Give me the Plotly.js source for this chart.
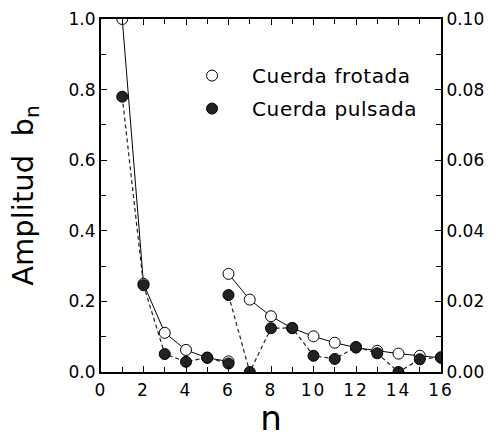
<!DOCTYPE html>
<html><head><meta charset="utf-8">
<script src="https://cdn.plot.ly/plotly-3.0.1.min.js"></script>
<style>html,body{margin:0;padding:0;background:#fff}
.legendtext{letter-spacing:0.6px}
.xtick text{letter-spacing:2px}</style>
</head><body><div id="chart" style="width:497px;height:438px"></div>
<script>
// Left-scale part (n = 1..6)
const nLeft = [1, 2, 3, 4, 5, 6];
const frotadaLeft = [1.0, 0.25, 0.111, 0.0625, 0.04, 0.030];
const pulsadaLeft = [0.78, 0.246, 0.051, 0.029, 0.041, 0.024];
// Right-scale part (n = 6..16), read on the 0–0.10 axis
const nRight = [6, 7, 8, 9, 10, 11, 12, 13, 14, 15, 16];
const frotadaRight = [0.0278, 0.0205, 0.0158, 0.0124, 0.0101, 0.0083, 0.0069, 0.0060, 0.0052, 0.0046, 0.0040];
const pulsadaRight = [0.0218, 0.0, 0.0124, 0.0125, 0.0046, 0.0037, 0.0071, 0.0053, 0.0, 0.0036, 0.0042];
const names = ["Cuerda frotada", "Cuerda pulsada"];

const FONT = "DejaVu Sans, Arial, sans-serif";
const solid = {color: "#000", width: 1, dash: "solid"};
const dashed = {color: "#222", width: 1.2, dash: "4px,3px"};
const openMk = {symbol: "circle", size: 11, color: "#fff", line: {color: "#000", width: 1}};
const fillMk = {symbol: "circle", size: 11, color: "#222", line: {color: "#000", width: 1}};

const traces = [
  {x: nLeft, y: frotadaLeft, mode: "lines", line: solid, showlegend: false, hoverinfo: "skip"},
  {x: nRight, y: frotadaRight, yaxis: "y2", mode: "lines", line: solid, showlegend: false, hoverinfo: "skip"},
  {x: nLeft, y: pulsadaLeft, mode: "lines", line: dashed, showlegend: false, hoverinfo: "skip"},
  {x: nRight, y: pulsadaRight, yaxis: "y2", mode: "lines", line: dashed, showlegend: false, hoverinfo: "skip"},
  {x: nLeft, y: frotadaLeft, mode: "markers", marker: openMk, name: names[0], legendgroup: "a", showlegend: true},
  {x: nRight, y: frotadaRight, yaxis: "y2", mode: "markers", marker: openMk, name: names[0], legendgroup: "a", showlegend: false},
  {x: nLeft, y: pulsadaLeft, mode: "markers", marker: fillMk, name: names[1], legendgroup: "b", showlegend: true},
  {x: nRight, y: pulsadaRight, yaxis: "y2", mode: "markers", marker: fillMk, name: names[1], legendgroup: "b", showlegend: false}
];

const layout = {
  width: 497, height: 438,
  margin: {l: 101, r: 56, t: 19, b: 66},
  paper_bgcolor: "#fff", plot_bgcolor: "#fff",
  font: {family: FONT, color: "#000", size: 16},
  showlegend: true,
  legend: {x: 0.209, y: 0.895, xanchor: "left", yanchor: "top", bgcolor: "rgba(0,0,0,0)",
           font: {family: FONT, size: 20, color: "#000"}, traceorder: "grouped", tracegroupgap: 4, itemwidth: 70},
  xaxis: {
    range: [0, 16], dtick: 2, tick0: 0, ticks: "inside", ticklen: 6, tickwidth: 1, tickcolor: "#000",
    minor: {dtick: 1, ticks: "inside", ticklen: 5, tickcolor: "#000", showgrid: false},
    showline: true, linewidth: 2, linecolor: "#000", mirror: "ticks", showgrid: false, zeroline: false,
    tickfont: {family: FONT, size: 17}, ticklabelstandoff: 2,
    title: {text: "n", font: {family: FONT, size: 34}, standoff: 9}
  },
  yaxis: {
    range: [0, 1.0], dtick: 0.2, tick0: 0, tickformat: ".1f", ticks: "inside", ticklen: 6, tickwidth: 1, tickcolor: "#000",
    minor: {dtick: 0.1, ticks: "inside", ticklen: 5, tickcolor: "#000", showgrid: false},
    showline: true, linewidth: 2, linecolor: "#000", showgrid: false, zeroline: false,
    tickfont: {family: FONT, size: 17},
    title: {text: "Amplitud  b<sub>n</sub>", font: {family: FONT, size: 29}, standoff: 26}
  },
  yaxis2: {
    overlaying: "y", side: "right", range: [0, 0.1], dtick: 0.02, tick0: 0, tickformat: ".2f",
    ticks: "inside", ticklen: 6, tickwidth: 1, tickcolor: "#000",
    minor: {dtick: 0.01, ticks: "inside", ticklen: 5, tickcolor: "#000", showgrid: false},
    showline: true, linewidth: 2, linecolor: "#000", showgrid: false, zeroline: false,
    tickfont: {family: FONT, size: 17}
  }
};

Plotly.newPlot("chart", traces, layout, {staticPlot: true, displayModeBar: false});
</script></body></html>
